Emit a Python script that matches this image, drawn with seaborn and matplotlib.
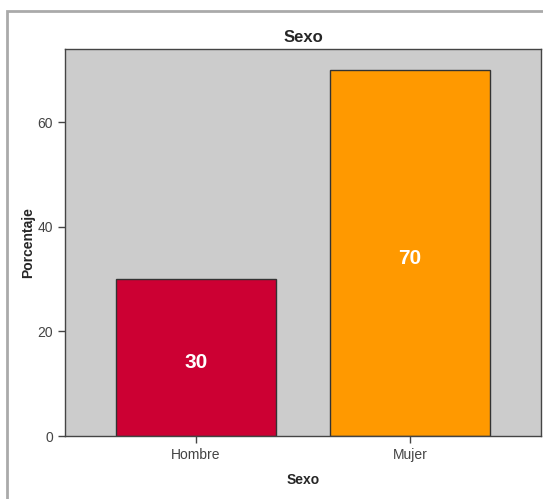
import pandas as pd
import numpy as np
import matplotlib
matplotlib.use('Agg')
import matplotlib.pyplot as plt
import seaborn as sns
from matplotlib.patches import Rectangle

# datos
categorias = ['Hombre', 'Mujer']
porcentajes = [30, 70]
colores = ['#cc0033', '#ff9900']

df = pd.DataFrame({'Sexo': categorias, 'Porcentaje': porcentajes})

sns.set_style('white')
plt.rcParams['font.family'] = ['Liberation Sans', 'DejaVu Sans']

fig = plt.figure(figsize=(5.43, 4.99), dpi=100)
ax = fig.add_axes([65/543, 1 - 436/499, 476/543, 387/499])

sns.barplot(data=df, x='Sexo', y='Porcentaje', hue='Sexo', palette=colores,
            saturation=1, width=0.75, edgecolor='#333333', linewidth=1,
            legend=False, ax=ax)

ax.set_facecolor('#cccccc')
ax.set_xlim(-0.612, 1.612)
ax.set_ylim(0, 74)
ax.set_yticks([0, 20, 40, 60])

for s in ax.spines.values():
    s.set_color('#444444')
    s.set_linewidth(1)

ax.tick_params(axis='both', direction='out', length=5, width=1, color='#444444',
               labelcolor='#444444', labelsize=10, left=True, bottom=True)

# etiquetas dentro de las barras
for i, v in enumerate(porcentajes):
    ax.text(i, v / 2 - 1, str(v), ha='center', va='center', color='white',
            fontsize=15, fontweight='bold')

ax.set_title('Sexo', fontsize=12, fontweight='bold', pad=5)
ax.set_xlabel('Sexo', fontsize=10, fontweight='bold', labelpad=8)
ax.set_ylabel('Porcentaje', fontsize=10, fontweight='bold', labelpad=2)

# marco exterior
fig.patches.append(Rectangle((7/543, -0.1), 1.2, 1 - 11/499 + 0.1,
                             transform=fig.transFigure, fill=False,
                             edgecolor='#aaaaaa', linewidth=2))

fig.savefig('out.png', dpi=100)
